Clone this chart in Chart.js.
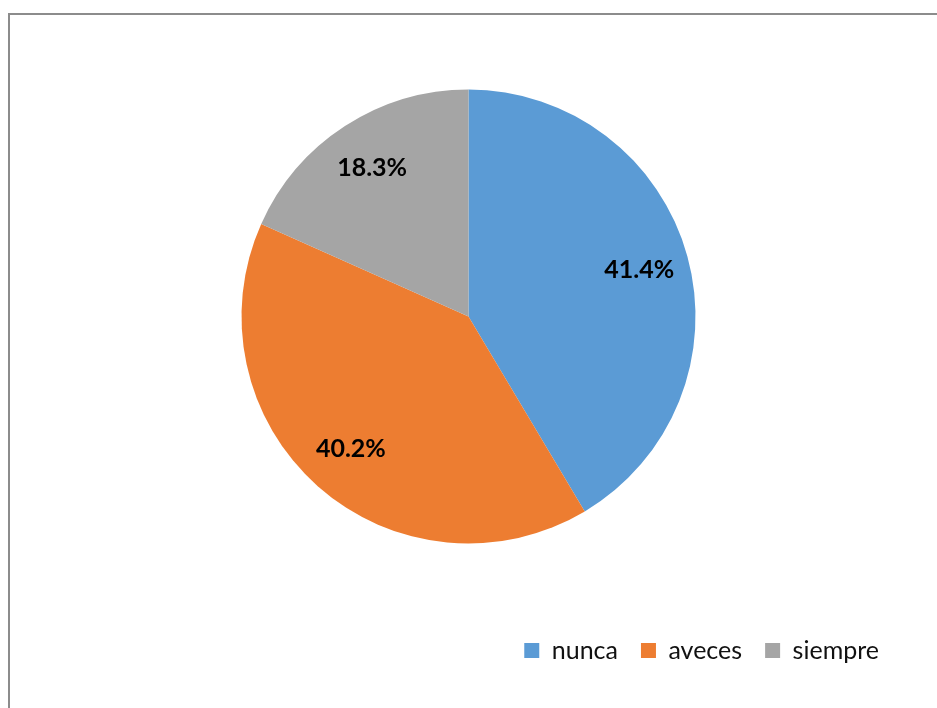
<!DOCTYPE html>
<html>
<head>
<meta charset="utf-8">
<script src="https://cdn.jsdelivr.net/npm/chart.js@4.4.1/dist/chart.umd.min.js"></script>
<style>
  html, body { margin: 0; padding: 0; background: #fff; }
  #wrap { position: relative; width: 937px; height: 708px; overflow: hidden; }
  #frame { position: absolute; left: 8px; top: 13px; right: -2px; bottom: -2px;
           border-top: 2px solid #8c8c8c; border-left: 2px solid #8c8c8c; }
  #chart1 { position: absolute; left: 0; top: 0; }
</style>
</head>
<body>
<div id="wrap">
  <div id="frame"></div>
  <canvas id="chart1" width="937" height="708"></canvas>
</div>
<script>
  let categories = ['nunca', 'aveces', 'siempre'];
  let percents = [41.4, 40.2, 18.3];
  let sliceColors = ['#5b9bd5', '#ed7d31', '#a5a5a5'];

  // puts the percentage inside each slice
  let sliceLabels = {
    id: 'sliceLabels',
    afterDatasetsDraw(chart) {
      let ctx = chart.ctx;
      let meta = chart.getDatasetMeta(0);
      ctx.save();
      ctx.font = 'bold 25px Lato, "Open Sans", sans-serif';
      ctx.fillStyle = '#000';
      ctx.textAlign = 'center';
      ctx.textBaseline = 'middle';
      meta.data.forEach(function(arc, i) {
        let mid = (arc.startAngle + arc.endAngle) / 2;
        let r = arc.outerRadius * 0.78;
        let x = arc.x + Math.cos(mid) * r;
        let y = arc.y + Math.sin(mid) * r;
        ctx.fillText(percents[i].toFixed(1) + '%', x, y);
      });
      ctx.restore();
    }
  };

  let ctx = document.getElementById('chart1').getContext('2d');
  let myPie = new Chart(ctx, {
    type: 'pie',
    data: {
      labels: categories,
      datasets: [{
        data: percents,
        backgroundColor: sliceColors,
        borderWidth: 0,
        radius: 227
      }]
    },
    options: {
      responsive: false,
      animation: false,
      layout: { padding: { left: 35, right: 35, top: 18, bottom: 35 } },
      plugins: {
        tooltip: { enabled: false },
        legend: {
          position: 'bottom',
          align: 'end',
          labels: {
            boxWidth: 15,
            boxHeight: 15,
            padding: 23,
            color: '#111',
            font: { family: 'Lato, "Open Sans", sans-serif', size: 25 }
          }
        }
      }
    },
    plugins: [sliceLabels]
  });
</script>
</body>
</html>
